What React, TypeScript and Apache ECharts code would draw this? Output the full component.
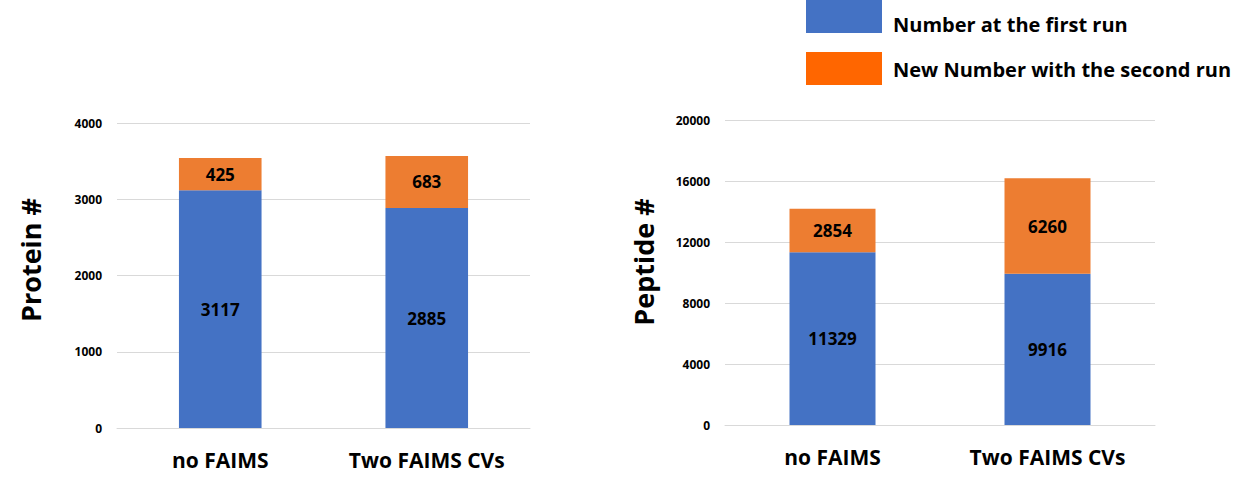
import React, { useEffect, useRef } from "react";
import * as echarts from "echarts";

const categories = ["no FAIMS", "Two FAIMS CVs"];
const proteinFirst = [3117, 2885];
const proteinNew = [425, 683];
const peptideFirst = [11329, 9916];
const peptideNew = [2854, 6260];
const seriesNames = ["Number at the first run", "New Number with the second run"];
const axisTitles = ["Protein #", "Peptide #"];

const FONT = "'Open Sans', 'Noto Sans', sans-serif";
const BLUE = "#4472C4";
const ORANGE = "#ED7D31";
const LEGEND_ORANGE = "#FF6600";

export default function App() {
  const ref = useRef<HTMLDivElement>(null);
  useEffect(() => {
    document.body.style.margin = "0";
    const chart = echarts.init(ref.current!, null, { renderer: "svg" });
    const labelStyle = {
      show: true,
      position: "inside",
      color: "#000",
      fontSize: 17,
      fontWeight: "bold",
      fontFamily: FONT,
    };
    const xAxisBase = {
      type: "category",
      data: categories,
      axisTick: { show: false },
      axisLine: { show: true, lineStyle: { color: "#d9d9d9" } },
      axisLabel: { color: "#000", fontSize: 21, fontWeight: "bold", fontFamily: FONT, margin: 21 },
    };
    const yAxisBase = {
      type: "value",
      min: 0,
      axisLine: { show: false },
      axisTick: { show: false },
      splitLine: { lineStyle: { color: "#d9d9d9" } },
      axisLabel: {
        color: "#000", fontSize: 12, fontWeight: "bold", fontFamily: FONT, margin: 15,
        formatter: (v: number) => String(v),
      },
    };
    const titleStyle = { fill: "#000", fontSize: 27, fontWeight: "bold", fontFamily: FONT, textAlign: "center", textVerticalAlign: "middle" };
    const legendText = { fill: "#000", fontSize: 20, fontWeight: "bold", fontFamily: FONT, textAlign: "left", textVerticalAlign: "middle" };
    chart.setOption({
      animation: false,
      graphic: [
        { type: "rect", shape: { x: 806, y: -8, width: 76, height: 41 }, style: { fill: BLUE } },
        { type: "rect", shape: { x: 806, y: 52, width: 76, height: 33 }, style: { fill: LEGEND_ORANGE } },
        { type: "text", x: 893, y: 24, style: { ...legendText, text: seriesNames[0] } },
        { type: "text", x: 893, y: 69, style: { ...legendText, text: seriesNames[1] } },
        { type: "text", x: 30, y: 260, rotation: Math.PI / 2, style: { ...titleStyle, text: axisTitles[0] } },
        { type: "text", x: 643, y: 262, rotation: Math.PI / 2, style: { ...titleStyle, text: axisTitles[1] } },
      ],
      grid: [
        { left: 117, right: 714, top: 123, bottom: 53 },
        { left: 725, right: 89, top: 120, bottom: 56 },
      ],
      xAxis: [
        { ...xAxisBase, gridIndex: 0 },
        { ...xAxisBase, gridIndex: 1 },
      ],
      yAxis: [
        { ...yAxisBase, gridIndex: 0, max: 4000, interval: 1000 },
        { ...yAxisBase, gridIndex: 1, max: 20000, interval: 4000 },
      ],
      series: [
        {
          name: seriesNames[0], type: "bar", stack: "p", xAxisIndex: 0, yAxisIndex: 0,
          data: proteinFirst, barWidth: "40%", itemStyle: { color: BLUE }, label: labelStyle,
        },
        {
          name: seriesNames[1], type: "bar", stack: "p", xAxisIndex: 0, yAxisIndex: 0,
          data: proteinNew, barWidth: "40%", itemStyle: { color: ORANGE }, label: labelStyle,
        },
        {
          name: seriesNames[0], type: "bar", stack: "q", xAxisIndex: 1, yAxisIndex: 1,
          data: peptideFirst, barWidth: "40%", itemStyle: { color: BLUE }, label: labelStyle,
        },
        {
          name: seriesNames[1], type: "bar", stack: "q", xAxisIndex: 1, yAxisIndex: 1,
          data: peptideNew, barWidth: "40%", itemStyle: { color: ORANGE }, label: labelStyle,
        },
      ],
    });
    return () => chart.dispose();
  }, []);
  return <div ref={ref} style={{ width: 1244, height: 481 }} />;
}
